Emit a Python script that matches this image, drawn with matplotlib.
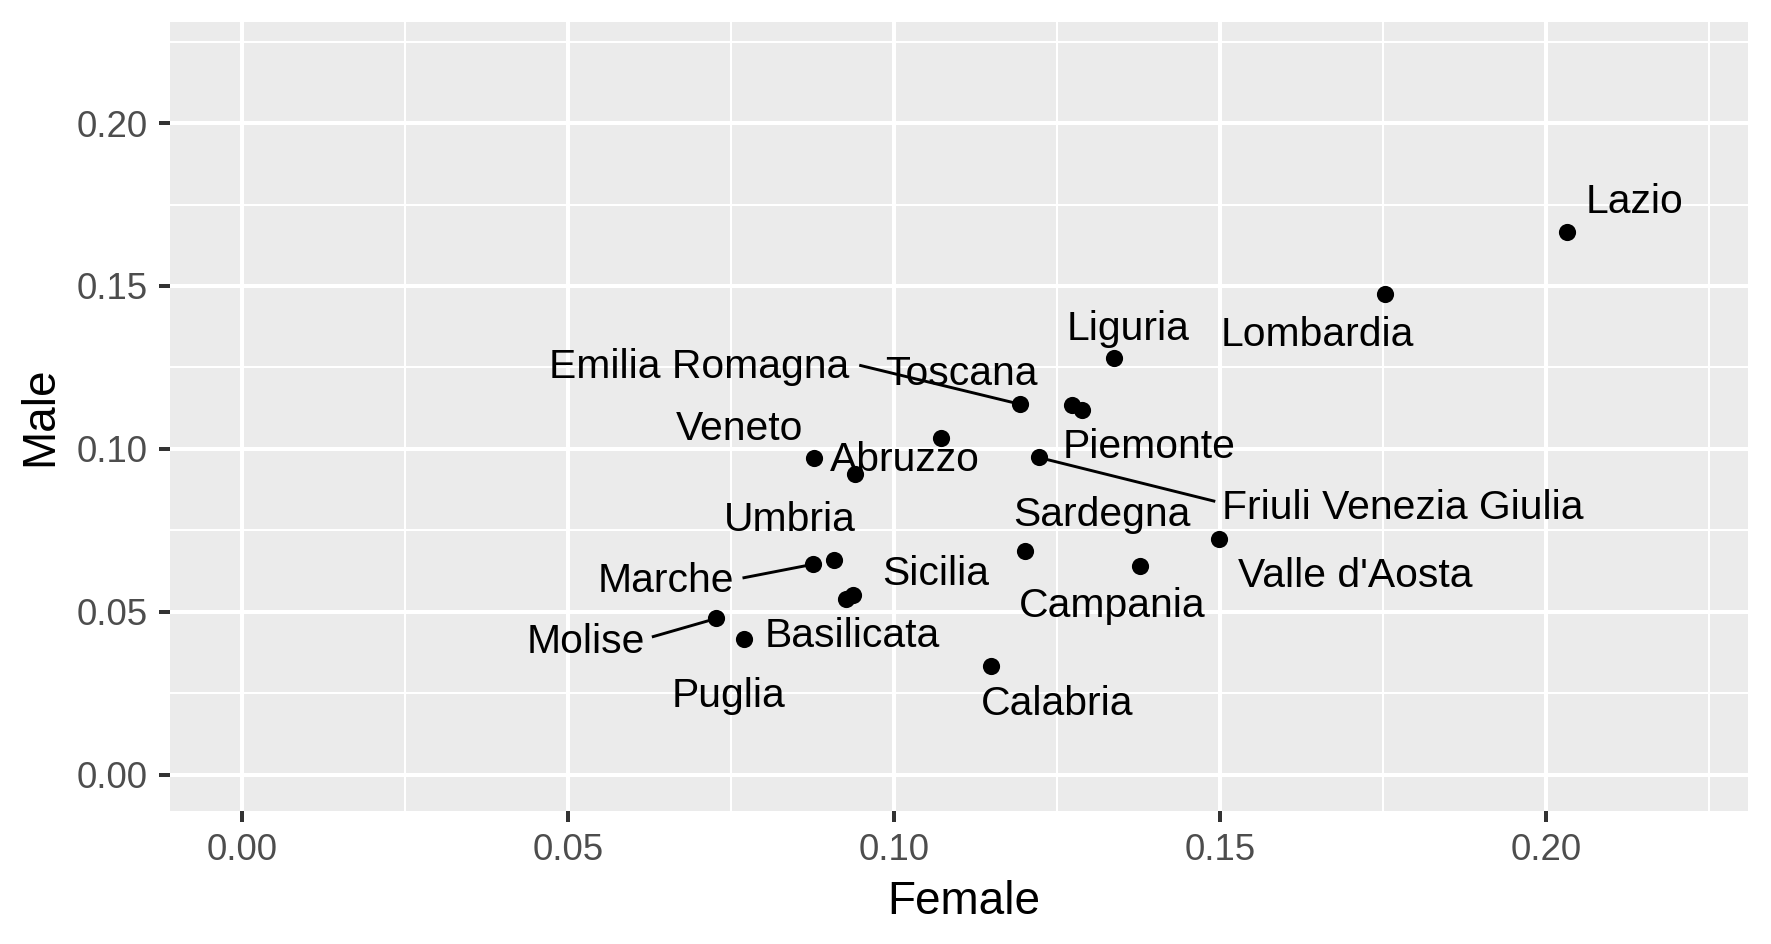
import matplotlib
matplotlib.use("Agg")
import matplotlib.pyplot as plt
from matplotlib.ticker import MultipleLocator

plt.rcParams['font.family'] = ['Liberation Sans', 'DejaVu Sans']

# share of graduates abroad by region (female, male)
regions = ["Lazio", "Lombardia", "Liguria", "Emilia Romagna", "Toscana",
           "Piemonte", "Friuli Venezia Giulia", "Sardegna", "Campania",
           "Valle d'Aosta", "Calabria", "Veneto", "Abruzzo", "Trentino Alto Adige",
           "Umbria", "Marche", "Sicilia", "Puglia", "Basilicata", "Molise"]
female = [0.2033, 0.1753, 0.1337, 0.1194, 0.1273,
          0.1288, 0.1222, 0.1201, 0.1378,
          0.1499, 0.1149, 0.0877, 0.1073, 0.0940,
          0.0908, 0.0876, 0.0938, 0.0927, 0.0770, 0.0728]
male = [0.1667, 0.1475, 0.1279, 0.1137, 0.1134,
        0.1119, 0.0974, 0.0686, 0.0640,
        0.0725, 0.0335, 0.0972, 0.1035, 0.0922,
        0.0659, 0.0646, 0.0551, 0.0541, 0.0418, 0.0480]

# where the repelled labels ended up (label x centre, baseline y)
label_pos = {
    "Lazio": (0.2136, 0.1723),
    "Lombardia": (0.1650, 0.1316),
    "Liguria": (0.1360, 0.1335),
    "Emilia Romagna": (0.0701, 0.1218),
    "Toscana": (0.1104, 0.1196),
    "Piemonte": (0.1391, 0.0971),
    "Friuli Venezia Giulia": (0.1780, 0.0786),
    "Sardegna": (0.1319, 0.0763),
    "Campania": (0.1335, 0.0484),
    "Valle d'Aosta": (0.1708, 0.0577),
    "Calabria": (0.1251, 0.0185),
    "Veneto": (0.0763, 0.1027),
    "Abruzzo": (0.1017, 0.0932),
    "Umbria": (0.0840, 0.0748),
    "Marche": (0.0650, 0.0561),
    "Sicilia": (0.1064, 0.0582),
    "Puglia": (0.0746, 0.0207),
    "Basilicata": (0.0936, 0.0391),
    "Molise": (0.0527, 0.0375),
}
# segment start (label side) for labels pushed away from their point
segments = {
    "Emilia Romagna": (0.0947, 0.1257),
    "Friuli Venezia Giulia": (0.1493, 0.0839),
    "Marche": (0.0768, 0.0604),
    "Molise": (0.0629, 0.0423),
}

fig = plt.figure(figsize=(1771 / 300, 944 / 300), dpi=300)
ax = fig.add_axes([170 / 1771, 1 - 810.7 / 944, 1578 / 1771, 788.7 / 944])
ax.set_facecolor('#EBEBEB')
for s in ax.spines.values():
    s.set_visible(False)

ax.set_xlim(-0.011, 0.231)
ax.set_ylim(-0.011, 0.231)
for axis in (ax.xaxis, ax.yaxis):
    axis.set_major_locator(MultipleLocator(0.05))
    axis.set_minor_locator(MultipleLocator(0.025))
ax.grid(which='major', color='white', linewidth=0.96)
ax.grid(which='minor', color='white', linewidth=0.5)
ax.set_axisbelow(True)
ax.tick_params(which='major', length=2.6, width=0.96, color='#333333',
               labelsize=8.8, labelcolor='#4D4D4D', pad=2.8)
ax.tick_params(which='minor', length=0)
ax.xaxis.set_major_formatter(lambda v, p: f"{v:.2f}")
ax.yaxis.set_major_formatter(lambda v, p: f"{v:.2f}")

for name, sx in segments.items():
    i = regions.index(name)
    ax.plot([sx[0], female[i]], [sx[1], male[i]], color='black', linewidth=0.7,
            solid_capstyle='butt')

ax.scatter(female, male, s=17, color='black', linewidths=0, zorder=3)

for name, (lx, ly) in label_pos.items():
    ax.text(lx, ly, name, fontsize=9.8, ha='center', va='baseline', color='black')

fig.text(964 / 1771, 1 - 913.9 / 944, "Female", fontsize=11, ha='center', va='baseline')
fig.text(40 / 1771, 1 - 416 / 944, "Male", fontsize=11, rotation=90,
         ha='center', va='center')

fig.savefig("out.png", dpi=300)
